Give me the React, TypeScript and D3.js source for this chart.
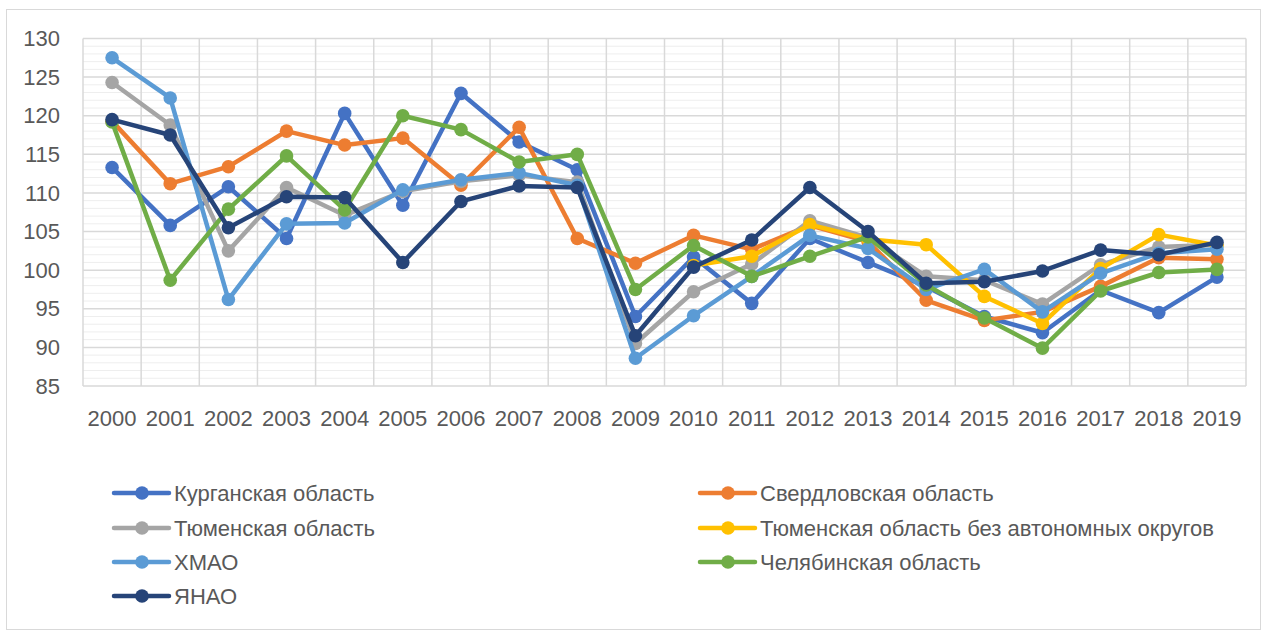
import React from "react";
import * as d3 from "d3";

const years = ["2000","2001","2002","2003","2004","2005","2006","2007","2008","2009","2010","2011","2012","2013","2014","2015","2016","2017","2018","2019"];
const yTicks = [85, 90, 95, 100, 105, 110, 115, 120, 125, 130];

const kurgan = [113.3,105.8,110.8,104.1,120.3,108.4,122.9,116.6,113.0,94.0,101.7,95.7,104.1,101.0,97.9,94.0,91.9,97.4,94.5,99.1];
const sverdl = [119.3,111.2,113.4,118.0,116.2,117.1,111.0,118.5,104.1,100.9,104.5,102.7,105.8,103.7,96.1,93.5,94.6,97.9,101.6,101.4];
const tyumen = [124.3,118.8,102.5,110.7,107.1,110.2,111.5,112.3,111.4,90.5,97.2,100.8,106.4,104.2,99.2,98.7,95.6,100.7,103.0,103.3];
const tyumenNoAO: (number | null)[] = [null,null,null,null,null,null,null,null,null,null,100.6,101.8,105.9,104.0,103.3,96.6,93.1,100.2,104.6,103.2];
const hmao = [127.5,122.3,96.2,106.0,106.1,110.4,111.7,112.6,111.0,88.6,94.1,99.2,104.5,102.8,97.5,100.1,94.6,99.6,102.2,102.7];
const chel = [119.2,98.7,107.9,114.8,107.8,120.0,118.2,114.0,115.0,97.5,103.2,99.2,101.8,104.3,98.1,93.8,89.9,97.3,99.7,100.1];
const yanao = [119.5,117.5,105.5,109.5,109.4,101.0,108.9,110.9,110.7,91.5,100.4,103.9,110.7,105.0,98.3,98.5,99.9,102.6,102.0,103.6];

const seriesNames = ["Курганская область","Свердловская область","Тюменская область","Тюменская область без автономных округов","ХМАО","Челябинская область","ЯНАО"];
const seriesValues: (number | null)[][] = [kurgan, sverdl, tyumen, tyumenNoAO, hmao, chel, yanao];
const seriesColors = ["#4472C4","#ED7D31","#A5A5A5","#FFC000","#5B9BD5","#70AD47","#264478"];

export default function App() {
  const W = 1266, H = 633;
  const left = 83, right = 1246, top = 38.5, bottom = 386;
  const x = d3.scaleBand<string>().domain(years).range([left, right]);
  const y = d3.scaleLinear().domain([85, 130]).range([bottom, top]);
  const cx = (yr: string) => (x(yr) as number) + x.bandwidth() / 2;
  const minor = d3.range(85, 131, 1).filter((v) => v % 5 !== 0);
  const line = d3
    .line<number | null>()
    .defined((d) => d != null)
    .x((_, i) => cx(years[i]))
    .y((d) => y(d as number));
  const font = "'Liberation Sans', Arial, sans-serif";
  const text = "#595959";
  const legendRowsY = [493, 528, 562, 596];
  const legendColX = [114, 700];

  return (
    <>
      <style>{"body{margin:0}"}</style>
      <svg width={W} height={H} style={{ display: "block" }} fontFamily={font}>
        <rect x={0} y={0} width={W} height={H} fill="#fff" />
        <rect x={6.5} y={9.5} width={1254} height={620} fill="none" stroke="#d9d9d9" strokeWidth={1} />
        {minor.map((v) => (
          <line key={"m" + v} x1={left} x2={right} y1={y(v)} y2={y(v)} stroke="#eeeeee" strokeWidth={1} />
        ))}
        {yTicks.map((v) => (
          <line key={"g" + v} x1={left} x2={right} y1={y(v)} y2={y(v)} stroke="#d9d9d9" strokeWidth={1.5} />
        ))}
        {years.concat(["end"]).map((yr, i) => {
          const xv = left + i * x.bandwidth();
          return <line key={"v" + i} x1={xv} x2={xv} y1={top} y2={bottom} stroke="#d9d9d9" strokeWidth={1.5} />;
        })}
        {yTicks.map((v) => (
          <text key={"yl" + v} x={60} y={y(v)} dy="0.35em" textAnchor="end" fontSize={22} fill={text}>
            {v}
          </text>
        ))}
        {years.map((yr) => (
          <text key={"xl" + yr} x={cx(yr)} y={418} dy="0.35em" textAnchor="middle" fontSize={22} fill={text}>
            {yr}
          </text>
        ))}
        {seriesValues.map((vals, si) => (
          <g key={"s" + si}>
            <path d={line(vals) || ""} fill="none" stroke={seriesColors[si]} strokeWidth={4.5} strokeLinejoin="round" />
            {vals.map((v, i) =>
              v == null ? null : (
                <circle key={i} cx={cx(years[i])} cy={y(v)} r={6.8} fill={seriesColors[si]} />
              )
            )}
          </g>
        ))}
        {seriesNames.map((name, i) => {
          const lx = legendColX[i % 2];
          const ly = legendRowsY[Math.floor(i / 2)];
          return (
            <g key={"lg" + i}>
              <line x1={lx} x2={lx + 55} y1={ly} y2={ly} stroke={seriesColors[i]} strokeWidth={4.5} strokeLinecap="round" />
              <circle cx={lx + 28} cy={ly} r={6.8} fill={seriesColors[i]} />
              <text x={lx + 60} y={ly} dy="0.35em" fontSize={22} fill={text}>
                {name}
              </text>
            </g>
          );
        })}
      </svg>
    </>
  );
}
